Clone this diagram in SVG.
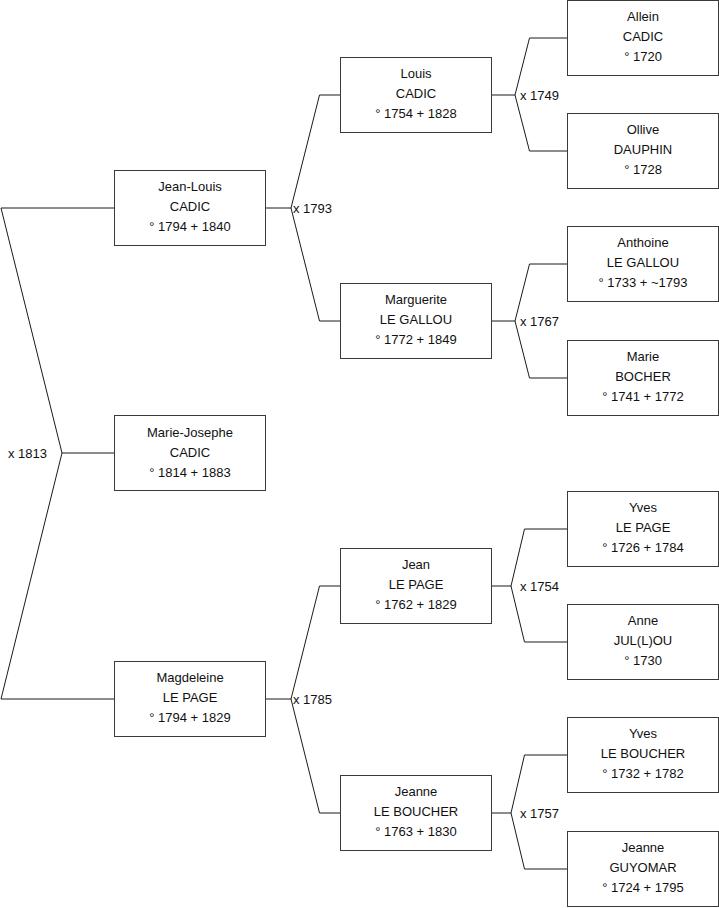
<svg xmlns="http://www.w3.org/2000/svg" width="719" height="908" viewBox="0 0 719 908">
<style>
.box{fill:#fff;stroke:#3a3a3a;stroke-width:1}
.ln{fill:none;stroke:#1a1a1a;stroke-width:1}
text{font-family:"Liberation Sans",Arial,sans-serif;font-size:13px;fill:#111}
.c{text-anchor:middle}
</style>
<rect width="719" height="908" fill="#fff"/>
<g id="connectors">
<polyline class="ln" points="114.5,208 1,208 62,453 1,699 114.5,699"/>
<line class="ln" x1="62" y1="453" x2="114.5" y2="453"/>
<polyline class="ln" points="265.5,208 291,208"/>
<polyline class="ln" points="340.5,95 319.5,95 291,208 319.5,321 340.5,321"/>
<polyline class="ln" points="265.5,699 291,699"/>
<polyline class="ln" points="340.5,586 319.5,586 291,699 319.5,813 340.5,813"/>
<polyline class="ln" points="491.5,95 515,95"/>
<polyline class="ln" points="567.5,38 529.5,38 515,95 529.5,151 567.5,151"/>
<polyline class="ln" points="491.5,321 515,321"/>
<polyline class="ln" points="567.5,264 529.5,264 515,321 529.5,378 567.5,378"/>
<polyline class="ln" points="491.5,586 511,586"/>
<polyline class="ln" points="567.5,529 524.5,529 511,586 524.5,642 567.5,642"/>
<polyline class="ln" points="491.5,813 511,813"/>
<polyline class="ln" points="567.5,755 524.5,755 511,813 524.5,869 567.5,869"/>
<text x="8" y="457.5">x 1813</text>
<text x="293" y="212.5">x 1793</text>
<text x="293" y="703.5">x 1785</text>
<text x="520" y="99.5">x 1749</text>
<text x="520" y="325.5">x 1767</text>
<text x="520" y="590.5">x 1754</text>
<text x="520" y="817.5">x 1757</text>
</g>
<g id="jean-louis"><rect class="box" x="114.5" y="170.5" width="151" height="75"/><text class="c" x="190" y="191">Jean-Louis</text><text class="c" x="190" y="211">CADIC</text><text class="c" x="190" y="231">° 1794 + 1840</text></g>
<g id="marie-josephe"><rect class="box" x="114.5" y="415.5" width="151" height="75"/><text class="c" x="190" y="437">Marie-Josephe</text><text class="c" x="190" y="457">CADIC</text><text class="c" x="190" y="477">° 1814 + 1883</text></g>
<g id="magdeleine"><rect class="box" x="114.5" y="661.5" width="151" height="75"/><text class="c" x="190" y="682">Magdeleine</text><text class="c" x="190" y="702">LE PAGE</text><text class="c" x="190" y="722">° 1794 + 1829</text></g>
<g id="louis"><rect class="box" x="340.5" y="57.5" width="151" height="75"/><text class="c" x="416" y="78">Louis</text><text class="c" x="416" y="98">CADIC</text><text class="c" x="416" y="118">° 1754 + 1828</text></g>
<g id="marguerite"><rect class="box" x="340.5" y="283.5" width="151" height="75"/><text class="c" x="416" y="304">Marguerite</text><text class="c" x="416" y="324">LE GALLOU</text><text class="c" x="416" y="344">° 1772 + 1849</text></g>
<g id="jean"><rect class="box" x="340.5" y="548.5" width="151" height="75"/><text class="c" x="416" y="569">Jean</text><text class="c" x="416" y="589">LE PAGE</text><text class="c" x="416" y="609">° 1762 + 1829</text></g>
<g id="jeanne-leboucher"><rect class="box" x="340.5" y="775.5" width="151" height="75"/><text class="c" x="416" y="796">Jeanne</text><text class="c" x="416" y="816">LE BOUCHER</text><text class="c" x="416" y="836">° 1763 + 1830</text></g>
<g id="allein"><rect class="box" x="567.5" y="0.5" width="151" height="75"/><text class="c" x="643" y="21">Allein</text><text class="c" x="643" y="41">CADIC</text><text class="c" x="643" y="61">° 1720</text></g>
<g id="ollive"><rect class="box" x="567.5" y="113.5" width="151" height="75"/><text class="c" x="643" y="134">Ollive</text><text class="c" x="643" y="154">DAUPHIN</text><text class="c" x="643" y="174">° 1728</text></g>
<g id="anthoine"><rect class="box" x="567.5" y="226.5" width="151" height="75"/><text class="c" x="643" y="247">Anthoine</text><text class="c" x="643" y="267">LE GALLOU</text><text class="c" x="643" y="287">° 1733 + ~1793</text></g>
<g id="marie"><rect class="box" x="567.5" y="340.5" width="151" height="75"/><text class="c" x="643" y="361">Marie</text><text class="c" x="643" y="381">BOCHER</text><text class="c" x="643" y="401">° 1741 + 1772</text></g>
<g id="yves-lepage"><rect class="box" x="567.5" y="491.5" width="151" height="75"/><text class="c" x="643" y="512">Yves</text><text class="c" x="643" y="532">LE PAGE</text><text class="c" x="643" y="552">° 1726 + 1784</text></g>
<g id="anne"><rect class="box" x="567.5" y="604.5" width="151" height="75"/><text class="c" x="643" y="625">Anne</text><text class="c" x="643" y="645">JUL(L)OU</text><text class="c" x="643" y="665">° 1730</text></g>
<g id="yves-leboucher"><rect class="box" x="567.5" y="717.5" width="151" height="75"/><text class="c" x="643" y="738">Yves</text><text class="c" x="643" y="758">LE BOUCHER</text><text class="c" x="643" y="778">° 1732 + 1782</text></g>
<g id="jeanne-guyomar"><rect class="box" x="567.5" y="831.5" width="151" height="75"/><text class="c" x="643" y="852">Jeanne</text><text class="c" x="643" y="872">GUYOMAR</text><text class="c" x="643" y="892">° 1724 + 1795</text></g>
</svg>
